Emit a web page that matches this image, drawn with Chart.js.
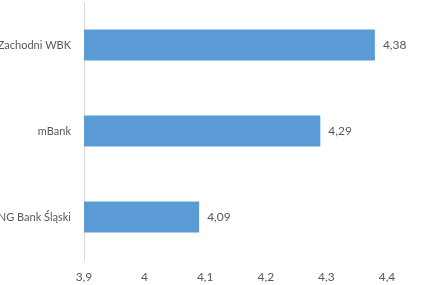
<!DOCTYPE html>
<html>
<head>
<meta charset="utf-8">
<script src="https://cdn.jsdelivr.net/npm/chart.js@4/dist/chart.umd.min.js"></script>
<style>
  html, body { margin: 0; padding: 0; background: #fff; }
  #wrap { width: 424px; height: 285px; }
</style>
</head>
<body>
<div id="wrap"><canvas id="chart"></canvas></div>
<script>
// dane wykresu
const banks = ['Bank Zachodni WBK', 'mBank', 'ING Bank Śląski'];
const scores = [4.38, 4.29, 4.09];
const tickLabels = ['3,9', '4', '4,1', '4,2', '4,3', '4,4'];

const textColor = '#595959';
const barColor = '#5b9bd5';
const fontFamily = 'Lato, "Open Sans", sans-serif';

// etykiety wartości przy słupkach
const valueLabels = {
    id: 'valueLabels',
    afterDatasetsDraw(chart) {
        const ctx = chart.ctx;
        const meta = chart.getDatasetMeta(0);
        ctx.save();
        ctx.font = '12px ' + fontFamily;
        ctx.fillStyle = textColor;
        ctx.textAlign = 'left';
        ctx.textBaseline = 'middle';
        meta.data.forEach((bar, i) => {
            const txt = scores[i].toFixed(2).replace('.', ',');
            ctx.fillText(txt, bar.x + 8, bar.y);
        });
        ctx.restore();
    }
};

new Chart(document.getElementById('chart'), {
    type: 'bar',
    data: {
        labels: banks,
        datasets: [{
            data: scores,
            backgroundColor: barColor,
            borderWidth: 0,
            categoryPercentage: 1,
            barPercentage: 0.36
        }]
    },
    options: {
        indexAxis: 'y',
        responsive: true,
        maintainAspectRatio: false,
        animation: false,
        layout: { padding: { top: 2, right: 37, left: 0, bottom: 0 } },
        plugins: {
            legend: { display: false },
            tooltip: { enabled: false }
        },
        scales: {
            x: {
                min: 3.9,
                max: 4.4,
                grid: { display: false, drawTicks: false },
                border: { display: false },
                ticks: {
                    stepSize: 0.1,
                    color: textColor,
                    font: { family: fontFamily, size: 12 },
                    padding: 10,
                    maxRotation: 0,
                    callback: (v, i) => tickLabels[i]
                },
                afterFit(scale) { scale.height = 25; }
            },
            y: {
                grid: { display: false, drawTicks: false },
                border: { display: true, color: '#d9d9d9', width: 1 },
                ticks: {
                    color: textColor,
                    font: { family: fontFamily, size: 11 },
                    padding: 13
                },
                afterFit(scale) {
                    // stała szerokość osi, dłuższe nazwy wychodzą poza kadr
                    scale.width = 84;
                    scale.paddingTop = 0;
                    scale.paddingBottom = 0;
                }
            }
        }
    },
    plugins: [valueLabels]
});
</script>
</body>
</html>
